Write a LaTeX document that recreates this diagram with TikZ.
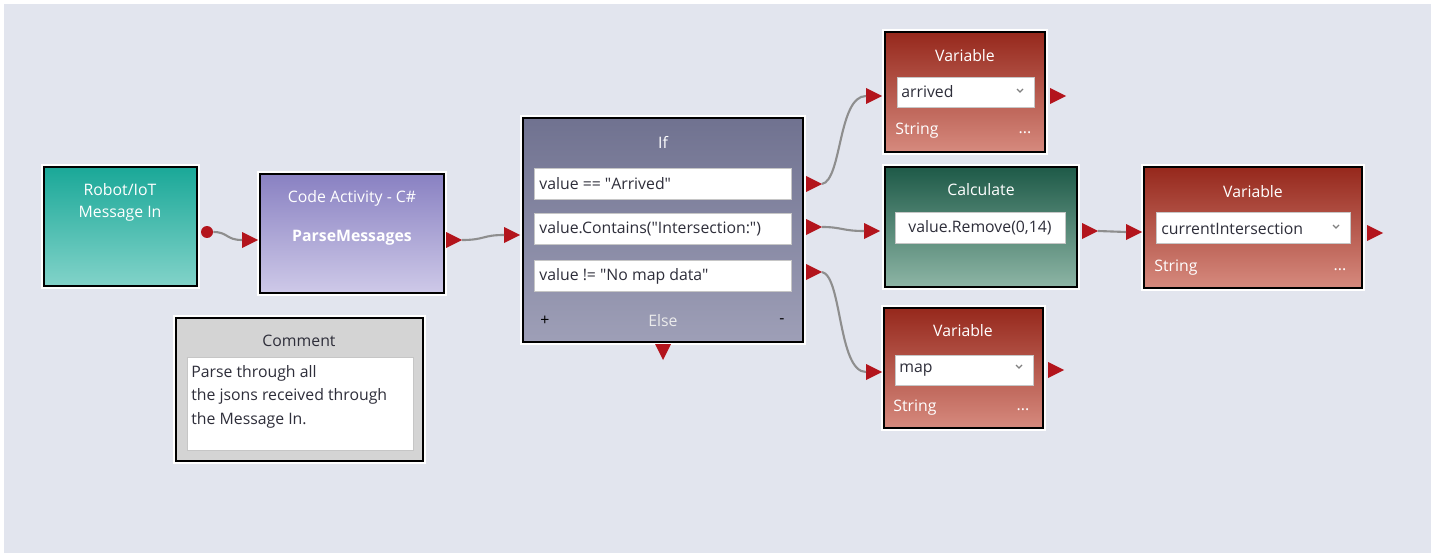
\documentclass[tikz,border=0pt]{standalone}
\usepackage{fontspec}
\setmainfont{Open Sans}
\usetikzlibrary{positioning}

\definecolor{canvas}{HTML}{E2E5EE}
\definecolor{portred}{HTML}{B3141C}
\definecolor{wiregray}{HTML}{8E8E8E}
\definecolor{fieldtext}{HTML}{2E2E3A}

% a port is a small red triangle pointing right, its tip and base get names
\newcommand{\port}[3]{%
  \fill[portred] (#2,#3) -- ++(-16,-8) -- ++(0,16) -- cycle;
  \coordinate (#1) at (#2,#3);
  \coordinate (#1b) at ({#2-16},#3);}

% small drop down arrow inside a variable field
\newcommand{\chevron}[2]{%
  \draw[gray, line width=0.7pt] ({#1-3},{#2-2}) -- (#1,{#2+1}) -- ({#1+3},{#2-2});}

\newcommand{\qq}{\textquotedbl}   % straight double quote

\begin{document}
\begin{tikzpicture}[x=0.02cm,y=-0.02cm,font=\fontsize{9}{10.5}\selectfont]

  % A block is a shaded box with a thick black border and a thin white halo round it
  \tikzstyle{block}=[draw=black, line width=1.4pt, preaction={draw=white, line width=3.4pt}, inner sep=0pt]
  \tikzstyle{field}=[fill=white, draw=gray!45, line width=0.4pt, inner sep=0pt, minimum height=0.62cm]
  \tikzstyle{title}=[text=white, inner sep=0pt]
  \tikzstyle{ftext}=[text=fieldtext, inner sep=0pt, anchor=west]
  \tikzstyle{wire}=[draw=wiregray, line width=1.2pt]

  % background panel
  \useasboundingbox (0,0) rectangle (1435,557);
  \fill[white] (0,0) rectangle (1435,557);
  \fill[canvas] (4,4) rectangle (1431,553);

  % Message in
  \node[block, top color={rgb,255:red,26;green,168;blue,152}, bottom color={rgb,255:red,130;green,211;blue,201}, minimum width=3.06cm, minimum height=2.38cm] (robot) at (120.5,226.5) {};
  \node[title] (robott) at (120,190) {Robot/IoT};
  \node[title] (robott2) at (120,214) {Message In};
  \node[circle, fill=portred, inner sep=0pt, minimum size=0.24cm] (dot) at (207,232) {};

  % Code activity
  \node[block, top color={rgb,255:red,137;green,129;blue,194}, bottom color={rgb,255:red,206;green,201;blue,232}, minimum width=3.68cm, minimum height=2.38cm] (code) at (352,233.5) {};
  \node[title] (codet) at (352,198) {Code Activity - C\#};
  \node[title, font=\fontsize{9}{10.5}\selectfont\bfseries] (coden) at (352,238) {ParseMessages};
  \port{codein}{258}{240}
  \port{codeout}{462}{240}

  % Comment
  \node[block, fill={rgb,255:red,212;green,212;blue,212}, minimum width=4.94cm, minimum height=2.86cm] (comment) at (299.5,389.5) {};
  \node[text=fieldtext, inner sep=0pt] (commentt) at (299,341) {Comment};
  \node[field, minimum width=4.52cm, minimum height=1.86cm] (commentf) at (300,403.5) {};
  \node[ftext, anchor=north west, align=left, font=\fontsize{9}{13.3}\selectfont] (commentx) at (191,365) {Parse through all\\the jsons received through\\the Message In.};

  % If block with three conditions
  \node[block, top color={rgb,255:red,112;green,114;blue,144}, bottom color={rgb,255:red,158;green,159;blue,183}, minimum width=5.6cm, minimum height=4.48cm] (if) at (663,230) {};
  \node[title] (ift) at (663,142) {If};
  \node[field, minimum width=5.14cm] (cond1) at (662.5,183.5) {};
  \node[field, minimum width=5.14cm] (cond2) at (662.5,228.5) {};
  \node[field, minimum width=5.14cm] (cond3) at (662.5,275.5) {};
  \node[ftext] (cond1t) at (539,184) {value == \qq Arrived\qq};
  \node[ftext] (cond2t) at (539,229) {value.Contains(\qq Intersection:\qq)};
  \node[ftext] (cond3t) at (539,276) {value != \qq No map data\qq};
  \node[text=black, inner sep=0pt] (plus) at (545,321) {+};
  \node[title, text=white!85!gray] (else) at (663,321) {Else};
  \node[text=black, inner sep=0pt] (minus) at (782,321) {-};
  \port{ifin}{520}{235}
  \port{ifo1}{822}{184}
  \port{ifo2}{822}{227}
  \port{ifo3}{822}{272}
  \fill[portred] (655,344) -- (671,344) -- (663,360) -- cycle;  % else output

  % Variable arrived
  \node[block, top color={rgb,255:red,150;green,40;blue,28}, bottom color={rgb,255:red,214;green,138;blue,126}, minimum width=3.2cm, minimum height=2.4cm] (varA) at (965,92) {};
  \node[title] (varAt) at (965,56) {Variable};
  \node[field, minimum width=2.74cm, minimum height=0.6cm] (varAf) at (965.5,92) {};
  \node[ftext] (varAn) at (901,92) {arrived};
  \chevron{1020}{91}
  \node[title, anchor=west] (varAs) at (895,131) {String};
  \node[title] (varAd) at (1025,133) {...};
  \port{varAin}{882}{96}
  \port{varAout}{1066}{96}

  % Calculate
  \node[block, top color={rgb,255:red,30;green,90;blue,72}, bottom color={rgb,255:red,141;green,181;blue,165}, minimum width=3.84cm, minimum height=2.4cm] (calc) at (981,227) {};
  \node[title] (calct) at (981,190) {Calculate};
  \node[field, minimum width=3.4cm] (calcf) at (980,227.5) {};
  \node[text=fieldtext, inner sep=0pt] (calcx) at (980,228) {value.Remove(0,14)};
  \port{calcin}{880}{231}
  \port{calcout}{1098}{231}

  % Variable currentIntersection
  \node[block, top color={rgb,255:red,150;green,40;blue,28}, bottom color={rgb,255:red,214;green,138;blue,126}, minimum width=4.36cm, minimum height=2.42cm] (varC) at (1253,227.5) {};
  \node[title] (varCt) at (1253,192) {Variable};
  \node[field, minimum width=3.88cm] (varCf) at (1253,227.5) {};
  \node[ftext] (varCn) at (1161,229) {currentIntersection};
  \chevron{1336}{227}
  \node[title, anchor=west] (varCs) at (1154,268) {String};
  \node[title] (varCd) at (1340,270) {...};
  \port{varCin}{1142}{232}
  \port{varCout}{1383}{233}

  % Variable map
  \node[block, top color={rgb,255:red,150;green,40;blue,28}, bottom color={rgb,255:red,214;green,138;blue,126}, minimum width=3.18cm, minimum height=2.4cm] (varM) at (963.5,368) {};
  \node[title] (varMt) at (963,331) {Variable};
  \node[field, minimum width=2.76cm, minimum height=0.6cm] (varMf) at (964,370) {};
  \node[ftext] (varMn) at (899,370) {map};
  \chevron{1019}{367}
  \node[title, anchor=west] (varMs) at (893,408) {String};
  \node[title] (varMd) at (1023,410) {...};
  \port{varMin}{882}{372}
  \port{varMout}{1064}{370}

  % wires
  \draw[wire] (dot.east) .. controls (228,232) and (226,240) .. (codeinb);
  \draw[wire] (codeout) .. controls (485,240) and (482,235) .. (ifinb);
  \draw[wire] (ifo1) .. controls (842,180) and (838,96) .. (varAinb);
  \draw[wire] (ifo2) .. controls (842,227) and (842,231) .. (calcinb);
  \draw[wire] (ifo3) .. controls (842,276) and (838,372) .. (varMinb);
  \draw[wire] (calcout) -- (varCinb);

\end{tikzpicture}
\end{document}
